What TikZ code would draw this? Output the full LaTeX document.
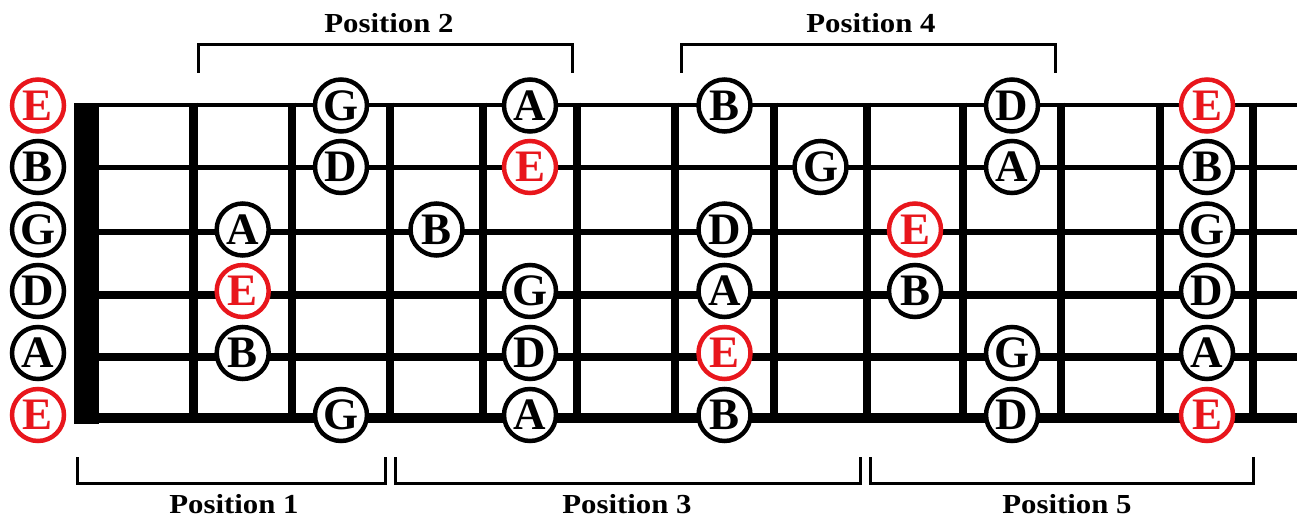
\documentclass[tikz,border=0pt]{standalone}
\usepackage{fontspec}
\setmainfont{Liberation Serif}
\newfontfamily\lblfont[FakeStretch=1.12]{Liberation Serif}
\definecolor{rootred}{RGB}{232,22,28}
\begin{document}
\begin{tikzpicture}[x=1pt,y=-1pt,
  note/.style={circle,draw=black,fill=white,line width=4.5pt,minimum size=52pt,inner sep=0pt,
     font=\fontsize{45}{45}\selectfont\bfseries},
  root/.style={note,draw=rootred,text=rootred},
  fretwire/.style={line width=8.5pt},
  brk/.style={line width=3pt},
  lbl/.style={anchor=base,inner sep=0pt,font=\lblfont\fontsize{27.5}{27.5}\selectfont\bfseries}]
\useasboundingbox (0,0) rectangle (1297,518);
% strings
\foreach \y/\w [count=\i] in {104.7/4,167.7/5,231.8/5.5,294.8/8,356.7/8,418.3/10}
  \draw[line width=\w pt] (90,\y) -- (1297,\y);
% nut
\fill (74,102.7) rectangle (99.3,424.3);
% frets
\foreach \x in {193.4,292,390,483,577,675,774,867,963,1061,1160,1253}
  \draw[fretwire] (\x,102.7) -- (\x,423.3);
% brackets
\coordinate (p2a) at (198,73); \coordinate (p2b) at (572,73);
\coordinate (p4a) at (681,73); \coordinate (p4b) at (1055,73);
\draw[brk] (p2a) |- (385,45) -| (p2b);
\draw[brk] (p4a) |- (868,45) -| (p4b);
\coordinate (p1a) at (77,457); \coordinate (p1b) at (385,457);
\coordinate (p3a) at (395,457); \coordinate (p3b) at (860,457);
\coordinate (p5a) at (870,457); \coordinate (p5b) at (1253,457);
\draw[brk] (p1a) |- (231,483) -| (p1b);
\draw[brk] (p3a) |- (627,483) -| (p3b);
\draw[brk] (p5a) |- (1061,483) -| (p5b);
\node[lbl] (t2) at (389,33) {Position 2};
\node[lbl] (t4) at (871,33) {Position 4};
\node[lbl] (t1) at (234,513) {Position 1};
\node[lbl] (t3) at (627,513) {Position 3};
\node[lbl] (t5) at (1067,513) {Position 5};
% note rows
\def\yA{105.5}\def\yB{167}\def\yC{229.5}\def\yD{291}\def\yE{353}\def\yF{415}
% open strings
\node[root] (o1) at (38,\yA) {E};
\node[note] (o2) at (38,\yB) {B};
\node[note] (o3) at (38,\yC) {G};
\node[note] (o4) at (38,\yD) {D};
\node[note] (o5) at (38,\yE) {A};
\node[root] (o6) at (38,\yF) {E};
% string 1
\node[note] (s1f3) at (341,\yA) {G};
\node[note] (s1f5) at (530,\yA) {A};
\node[note] (s1f7) at (724.5,\yA) {B};
\node[note] (s1f10) at (1012,\yA) {D};
\node[root] (s1f12) at (1207,\yA) {E};
% string 2
\node[note] (s2f3) at (341,\yB) {D};
\node[root] (s2f5) at (530,\yB) {E};
\node[note] (s2f8) at (820.5,\yB) {G};
\node[note] (s2f10) at (1012,\yB) {A};
\node[note] (s2f12) at (1207,\yB) {B};
% string 3
\node[note] (s3f2) at (242.7,\yC) {A};
\node[note] (s3f4) at (436.5,\yC) {B};
\node[note] (s3f7) at (724.5,\yC) {D};
\node[root] (s3f9) at (915,\yC) {E};
\node[note] (s3f12) at (1207,\yC) {G};
% string 4
\node[root] (s4f2) at (242.7,\yD) {E};
\node[note] (s4f5) at (530,\yD) {G};
\node[note] (s4f7) at (724.5,\yD) {A};
\node[note] (s4f9) at (915,\yD) {B};
\node[note] (s4f12) at (1207,\yD) {D};
% string 5
\node[note] (s5f2) at (242.7,\yE) {B};
\node[note] (s5f5) at (530,\yE) {D};
\node[root] (s5f7) at (724.5,\yE) {E};
\node[note] (s5f10) at (1012,\yE) {G};
\node[note] (s5f12) at (1207,\yE) {A};
% string 6
\node[note] (s6f3) at (341,\yF) {G};
\node[note] (s6f5) at (530,\yF) {A};
\node[note] (s6f7) at (724.5,\yF) {B};
\node[note] (s6f10) at (1012,\yF) {D};
\node[root] (s6f12) at (1207,\yF) {E};
\end{tikzpicture}
\end{document}
